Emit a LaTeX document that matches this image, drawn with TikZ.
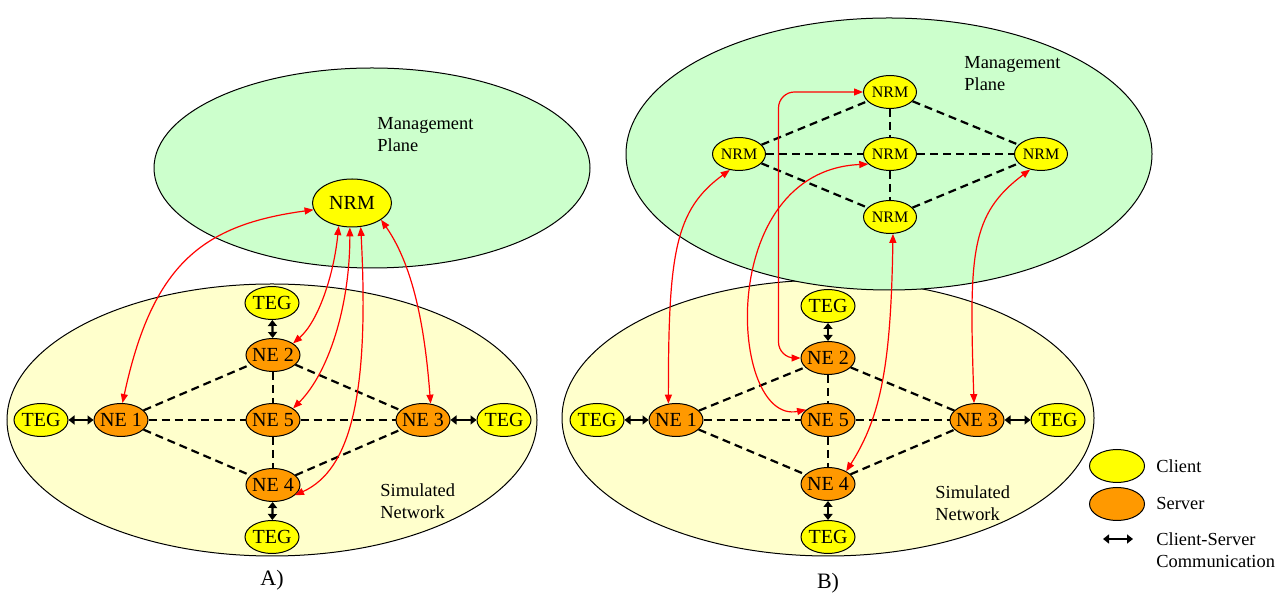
\documentclass[tikz,border=0pt]{standalone}
\usepackage{fontspec}
\setmainfont{Liberation Serif}
\usepackage{xcolor}
\usepackage{tikz}
\usetikzlibrary{shapes.geometric, arrows.meta}
\definecolor{clientyellow}{RGB}{255, 255, 0}
\definecolor{serverorange}{RGB}{255, 153, 0}
\definecolor{planegreen}{RGB}{204, 255, 204}
\definecolor{netyellow}{RGB}{255, 255, 204}
\definecolor{mgmtred}{RGB}{255, 0, 0}

\begin{document}
\begin{tikzpicture}[
    x=0.5pt, y=-0.5pt,
    client/.style={
        ellipse, draw=black, line width=0.5pt, fill=clientyellow,
        inner xsep=-3pt, inner ysep=0pt, minimum width=27pt, minimum height=16.5pt,
        font=\fontsize{10}{12}\selectfont
    },
    server/.style={client, fill=serverorange},
    nrm_small/.style={client, minimum width=26.5pt, minimum height=16.5pt, font=\fontsize{8}{10}\selectfont},
    plane/.style={ellipse, draw=black, line width=0.5pt, fill=planegreen, inner sep=0pt},
    simnet/.style={ellipse, draw=black, line width=0.5pt, fill=netyellow, inner sep=0pt},
    link/.style={draw=black, line width=1.1pt, dash pattern=on 4pt off 2.5pt},
    cs_arrow/.style={draw=black, line width=1.1pt,
        {Triangle[length=3pt,width=4.5pt]}-{Triangle[length=3pt,width=4.5pt]}},
    mgmt_arrow/.style={draw=mgmtred, line width=0.6pt,
        {Triangle[length=4.5pt,width=3.5pt]}-{Triangle[length=4.5pt,width=3.5pt]}},
    label_txt/.style={anchor=west, align=left, inner sep=0pt, font=\fontsize{9.2}{11}\selectfont},
    panel_txt/.style={inner sep=0pt, font=\fontsize{11}{13}\selectfont}
]
    \useasboundingbox (0,0) rectangle (1284,597);

    % ===== A) single NRM =====
    \node[simnet, minimum width=265pt, minimum height=136pt] (sim_a) at (272,420) {};
    \node[plane, minimum width=218pt, minimum height=100pt] (mgmt_a) at (372,168) {};
    \node[label_txt] (mgmt_a_txt) at (377,135) {Management\\Plane};
    \node[label_txt] (sim_a_txt) at (380,501) {Simulated\\Network};

    \node[client, minimum width=39.5pt, minimum height=24pt] (nrm_a) at (352,203) {NRM};

    \node[server] (ne1_a) at (121,420) {NE 1};
    \node[server] (ne2_a) at (273,355) {NE 2};
    \node[server] (ne3_a) at (423,420) {NE 3};
    \node[server] (ne4_a) at (273,485) {NE 4};
    \node[server] (ne5_a) at (273,420) {NE 5};

    \node[client] (teg_l_a) at (41,420) {TEG};
    \node[client] (teg_t_a) at (272,303) {TEG};
    \node[client] (teg_r_a) at (504,420) {TEG};
    \node[client] (teg_b_a) at (272,537) {TEG};

    \node[panel_txt] (cap_a) at (272,580) {A)};

    % --- NE mesh ---
    \draw[link] (ne1_a) -- (ne2_a);
    \draw[link] (ne2_a) -- (ne3_a);
    \draw[link] (ne1_a) -- (ne4_a);
    \draw[link] (ne4_a) -- (ne3_a);
    \draw[link] (ne1_a) -- (ne5_a);
    \draw[link] (ne5_a) -- (ne3_a);
    \draw[link] (ne2_a) -- (ne5_a);
    \draw[link] (ne5_a) -- (ne4_a);

    % --- traffic generators ---
    \draw[cs_arrow] (teg_l_a) -- (ne1_a);
    \draw[cs_arrow] (teg_t_a) -- (ne2_a);
    \draw[cs_arrow] (ne3_a) -- (teg_r_a);
    \draw[cs_arrow] (ne4_a) -- (teg_b_a);

    % --- NRM to NEs ---
    \draw[mgmt_arrow] (nrm_a.190) .. controls +(-110,15) and +(30,-140) .. (ne1_a.85);
    \draw[mgmt_arrow] (nrm_a.240) .. controls +(-5,50) and +(25,-22) .. (ne2_a.30);
    \draw[mgmt_arrow] (nrm_a.265) .. controls +(0,80) and +(35,-35) .. (ne5_a.30);
    \draw[mgmt_arrow] (nrm_a.290) .. controls +(9,170) and +(55,-25) .. (ne4_a.-25);
    \draw[mgmt_arrow] (nrm_a.-30) .. controls +(35,50) and +(-5,-65) .. (ne3_a.65);

    % ===== B) distributed NRMs =====
    \node[simnet, minimum width=266pt, minimum height=138pt] (sim_b) at (828,418) {};
    \node[plane, minimum width=263pt, minimum height=136pt] (mgmt_b) at (889,154) {};
    \node[label_txt] (mgmt_b_txt) at (964,74) {Management\\Plane};
    \node[label_txt] (sim_b_txt) at (935,503) {Simulated\\Network};

    \node[nrm_small] (nrm_t_b) at (890,92) {NRM};
    \node[nrm_small] (nrm_l_b) at (739,154) {NRM};
    \node[nrm_small] (nrm_c_b) at (890,154) {NRM};
    \node[nrm_small] (nrm_r_b) at (1041,154) {NRM};
    \node[nrm_small] (nrm_b_b) at (890,217) {NRM};

    \node[server] (ne1_b) at (676,420) {NE 1};
    \node[server] (ne2_b) at (828,358) {NE 2};
    \node[server] (ne3_b) at (977,420) {NE 3};
    \node[server] (ne4_b) at (828,484) {NE 4};
    \node[server] (ne5_b) at (828,420) {NE 5};

    \node[client] (teg_l_b) at (597,420) {TEG};
    \node[client] (teg_t_b) at (828,306) {TEG};
    \node[client] (teg_r_b) at (1058,420) {TEG};
    \node[client] (teg_b_b) at (828,537) {TEG};

    \node[panel_txt] (cap_b) at (828,583) {B)};

    % --- NRM mesh ---
    \draw[link] (nrm_l_b) -- (nrm_t_b);
    \draw[link] (nrm_t_b) -- (nrm_r_b);
    \draw[link] (nrm_l_b) -- (nrm_b_b);
    \draw[link] (nrm_b_b) -- (nrm_r_b);
    \draw[link] (nrm_l_b) -- (nrm_c_b);
    \draw[link] (nrm_c_b) -- (nrm_r_b);
    \draw[link] (nrm_t_b) -- (nrm_c_b);
    \draw[link] (nrm_c_b) -- (nrm_b_b);

    % --- NE mesh ---
    \draw[link] (ne1_b) -- (ne2_b);
    \draw[link] (ne2_b) -- (ne3_b);
    \draw[link] (ne1_b) -- (ne4_b);
    \draw[link] (ne4_b) -- (ne3_b);
    \draw[link] (ne1_b) -- (ne5_b);
    \draw[link] (ne5_b) -- (ne3_b);
    \draw[link] (ne2_b) -- (ne5_b);
    \draw[link] (ne5_b) -- (ne4_b);

    % --- traffic generators ---
    \draw[cs_arrow] (teg_l_b) -- (ne1_b);
    \draw[cs_arrow] (teg_t_b) -- (ne2_b);
    \draw[cs_arrow] (ne3_b) -- (teg_r_b);
    \draw[cs_arrow] (ne4_b) -- (teg_b_b);

    % --- each NRM to its NE ---
    \draw[mgmt_arrow] (nrm_l_b.240) .. controls +(-55,40) and +(0,-150) .. (ne1_b.115);
    \draw[mgmt_arrow, rounded corners=8pt] (nrm_t_b.west) -| ([xshift=-11pt]ne2_b.west) -- (ne2_b.west);
    \draw[mgmt_arrow] (nrm_c_b.205) .. controls +(-154,7) and +(-77,15) .. (ne5_b.155);
    \draw[mgmt_arrow] (nrm_b_b.-80) .. controls +(-2,130) and +(35,-55) .. (ne4_b.35);
    \draw[mgmt_arrow] (nrm_r_b.235) .. controls +(-60,45) and +(-5,-150) .. (ne3_b.100);

    % ===== legend =====
    \node[client, minimum width=27.5pt, minimum height=16.5pt] (key_client) at (1117,466) {};
    \node[server, minimum width=27.5pt, minimum height=16.5pt] (key_server) at (1117,504) {};
    \coordinate (key_cs_l) at (1103,539);
    \coordinate (key_cs_r) at (1133,539);
    \draw[cs_arrow] (key_cs_l) -- (key_cs_r);
    \node[label_txt] (key_client_txt) at (1156,466) {Client};
    \node[label_txt] (key_server_txt) at (1156,504) {Server};
    \node[label_txt] (key_cs_txt) at (1156,550) {Client-Server\\Communication};

\end{tikzpicture}
\end{document}
